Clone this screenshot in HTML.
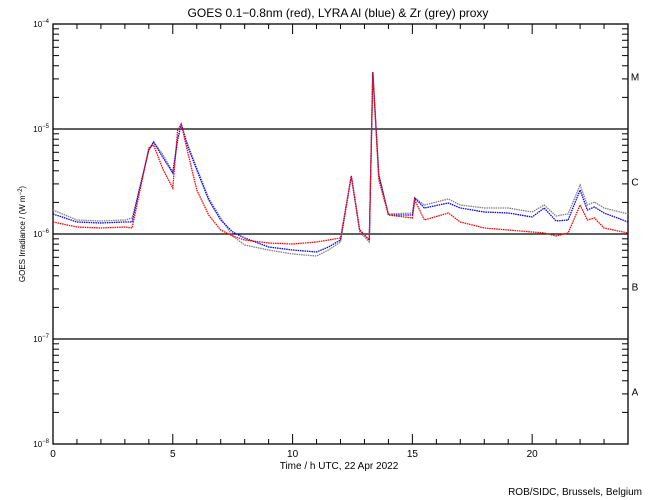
<!DOCTYPE html>
<html><head><meta charset="utf-8"><style>
body{margin:0;background:#fff;}
svg{display:block;font-family:"Liberation Sans",sans-serif;}
</style></head><body>
<svg id="chart" width="650" height="500" viewBox="0 0 650 500">
<rect width="650" height="500" fill="#fff"/>
<text x="338" y="17" text-anchor="middle" font-size="12">GOES 0.1−0.8nm (red), LYRA Al (blue) &amp; Zr (grey) proxy</text>
<g id="axes"></g>
<g id="series"></g>
<text x="339" y="469" text-anchor="middle" font-size="10">Time / h UTC, 22 Apr 2022</text>
<text transform="translate(25,234) rotate(-90)" text-anchor="middle" font-size="8">GOES Irradiance / (W m<tspan dy="-3" font-size="6">−2</tspan><tspan dy="3">)</tspan></text>
<text x="642" y="495" text-anchor="end" font-size="10">ROB/SIDC, Brussels, Belgium</text>
</svg>
<script>
const hours=[0,1,2,3,3.3,3.5,4.0,4.2,4.6,5.0,5.2,5.35,5.6,6.0,6.5,7.0,7.5,8,9,10,11,11.5,12,12.45,12.8,13.2,13.35,13.6,14,15,15.1,15.5,16.5,17,18,19,20,20.5,21,21.5,22,22.3,22.6,23,24];
const redLog=[-5.886,-5.933,-5.943,-5.933,-5.943,-5.724,-5.181,-5.152,-5.390,-5.562,-5.010,-4.952,-5.200,-5.581,-5.819,-5.962,-6.019,-6.057,-6.086,-6.095,-6.076,-6.057,-6.038,-5.448,-5.962,-6.057,-4.457,-5.486,-5.819,-5.848,-5.676,-5.867,-5.800,-5.886,-5.943,-5.962,-5.981,-5.990,-6.019,-5.990,-5.724,-5.867,-5.848,-5.943,-5.990];
const blueLog=[-5.810,-5.886,-5.895,-5.886,-5.886,-5.676,-5.200,-5.124,-5.276,-5.419,-5.105,-4.952,-5.152,-5.390,-5.676,-5.867,-5.981,-6.038,-6.124,-6.152,-6.171,-6.124,-6.057,-5.448,-5.962,-6.057,-4.457,-5.438,-5.819,-5.819,-5.657,-5.752,-5.705,-5.752,-5.790,-5.800,-5.838,-5.752,-5.876,-5.867,-5.581,-5.771,-5.743,-5.800,-5.886];
const greyLog=[-5.771,-5.867,-5.876,-5.867,-5.848,-5.676,-5.200,-5.124,-5.248,-5.410,-5.105,-4.952,-5.133,-5.371,-5.657,-5.848,-6.019,-6.105,-6.152,-6.190,-6.210,-6.152,-6.076,-5.448,-5.981,-6.076,-4.457,-5.438,-5.810,-5.800,-5.657,-5.724,-5.667,-5.724,-5.752,-5.752,-5.790,-5.724,-5.829,-5.810,-5.533,-5.724,-5.695,-5.752,-5.810];
const xTickLabels=["0","5","10","15","20"];
const yDecades=[-4,-5,-6,-7,-8];
const classLabels=["M","C","B","A"];

const X0=53,X1=628,Y0=24,Y1=444;
const xs=h=>X0+(X1-X0)*h/24;
const ys=l=>Y0+(-4-l)*(Y1-Y0)/4;
const NS="http://www.w3.org/2000/svg";
const axes=document.getElementById('axes'),ser=document.getElementById('series');
function mk(tag,at,parent){const e=document.createElementNS(NS,tag);for(const k in at)e.setAttribute(k,at[k]);parent.appendChild(e);return e;}

const fr=mk('rect',{x:X0,y:Y0,width:X1-X0,height:Y1-Y0,fill:'none',stroke:'#000','stroke-width':1.3},axes);


for(let h=0;h<=24;h++){
  const L=h%5===0?10:5,x=xs(h);
  const t1=mk('line',{x1:x,x2:x,y1:Y1,y2:Y1-L,stroke:'#000'},axes);
  
  
  const t2=mk('line',{x1:x,x2:x,y1:Y0,y2:Y0+L,stroke:'#000'},axes);
  
  
}
xTickLabels.forEach(s=>{
  const t=mk('text',{x:xs(+s),y:Y1+13,'text-anchor':'middle','font-size':10},axes);t.textContent=s;
  
  
});
for(let d=-8;d<-4;d++){
  for(let m=2;m<=9;m++){
    const y=ys(d+Math.log10(m));
    const a=mk('line',{x1:X0,x2:X0+6,y1:y,y2:y,stroke:'#000'},axes);
    
    
    const b=mk('line',{x1:X1,x2:X1-6,y1:y,y2:y,stroke:'#000'},axes);
    
    
  }
}
yDecades.forEach(d=>{
  const y=ys(d);
  if(d>-8&&d<-4){
    const g=mk('line',{x1:X0,x2:X1,y1:y,y2:y,stroke:'#000','stroke-width':1.3},axes);
    
    
  }
  const t=mk('text',{x:X0-4,y:y+3,'text-anchor':'end','font-size':8},axes);
  
  
  t.textContent='10';
  const sp=mk('tspan',{dy:-4,'font-size':6},t);sp.textContent=String(d).replace('-','−');
});
classLabels.forEach((c,i)=>{
  const t=mk('text',{x:635,y:ys(-4.5-i)+4,'text-anchor':'middle','font-size':10},axes);t.textContent=c;
  
  
});
function draw(vals,color,name){
  const p=mk('polyline',{points:hours.map((h,i)=>xs(h).toFixed(1)+','+ys(vals[i]).toFixed(1)).join(' '),fill:'none',stroke:color,'stroke-width':1.3,'stroke-dasharray':'1.5 0.8'},ser);
  
  
}
draw(greyLog,'#808080','lyra-zr-series');
draw(blueLog,'#0000ff','lyra-al-series');
draw(redLog,'#ff0000','goes-series');
</script>
</body></html>
